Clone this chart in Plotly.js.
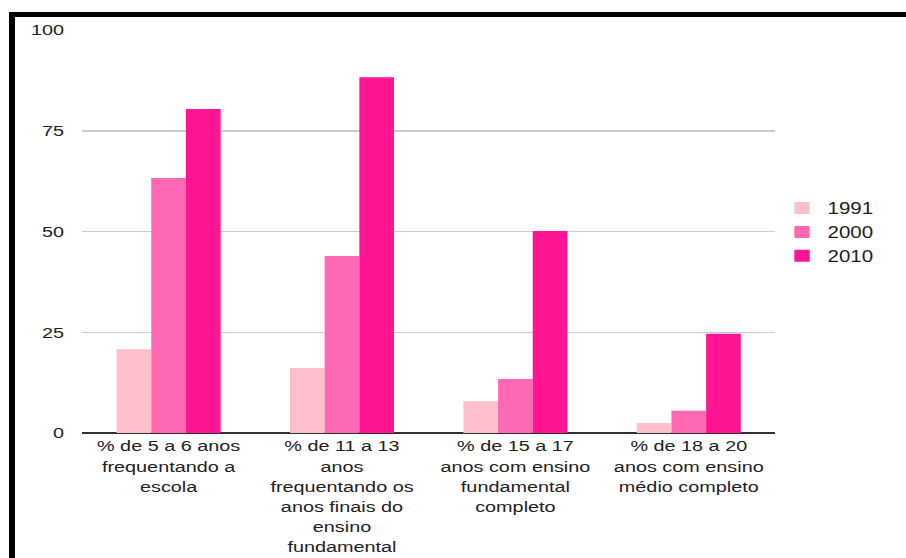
<!DOCTYPE html>
<html><head><meta charset="utf-8">
<script src="https://cdn.plot.ly/plotly-3.0.1.min.js"></script>
<style>
html,body{margin:0;padding:0;background:#fff;overflow:hidden;}
#chart{position:absolute;left:0;top:0;width:708px;height:558px;transform:scaleX(1.27966);transform-origin:0 0;}
#btop{position:absolute;left:9px;top:12px;width:897px;height:5px;background:#000;}
#bleft{position:absolute;left:9px;top:12px;width:6px;height:546px;background:#000;}
</style></head>
<body>
<div id="chart"></div>
<div id="btop"></div><div id="bleft"></div>
<script>
const categories = [
  "% de 5 a 6 anos<br>frequentando a<br>escola",
  "% de 11 a 13<br>anos<br>frequentando os<br>anos finais do<br>ensino<br>fundamental",
  "% de 15 a 17<br>anos com ensino<br>fundamental<br>completo",
  "% de 18 a 20<br>anos com ensino<br>médio completo"
];
const seriesNames = ["1991", "2000", "2010"];
const values1991 = [20.8, 16.1, 7.9, 2.5];
const values2000 = [63.3, 43.9, 13.4, 5.5];
const values2010 = [80.4, 88.3, 50.1, 24.6];
const yTicks = [0, 25, 50, 75, 100];
const colors = ["#FFC0CB", "#FF69B4", "#FF1493"];

const allVals = [values1991, values2000, values2010];
const data = seriesNames.map((n, i) => ({
  type: "bar", name: n, x: categories, y: allVals[i],
  marker: {color: colors[i]}
}));

const S = 906 / 708;
const FS = 15.5;
const layout = {
  width: 708, height: 558,
  margin: {l: 82 / S, r: 131 / S, t: 30, b: 125},
  paper_bgcolor: "#fff", plot_bgcolor: "#fff",
  barmode: "group", bargap: 0.4, bargroupgap: 0,
  font: {family: "Liberation Sans, Arial, sans-serif", size: FS, color: "#222"},
  xaxis: {type: "category", showgrid: false, ticks: "", showline: false,
          tickfont: {size: FS, color: "#222"}, ticklabelstandoff: 2},
  yaxis: {range: [0, 100], tickvals: yTicks, ticktext: yTicks.map(String),
          showgrid: true, gridcolor: "#cccccc", gridwidth: 1.5,
          zeroline: true, zerolinecolor: "#333", zerolinewidth: 2,
          ticks: "", ticklabelstandoff: 13, tickfont: {size: FS, color: "#222"}},
  legend: {x: 1.0014, y: 0.60, xanchor: "left", yanchor: "top",
           font: {size: 16, color: "#222"}, tracegroupgap: 0, itemwidth: 30},
  showlegend: true
};
Plotly.newPlot("chart", data, layout, {displayModeBar: false, staticPlot: true});
</script>
</body></html>
